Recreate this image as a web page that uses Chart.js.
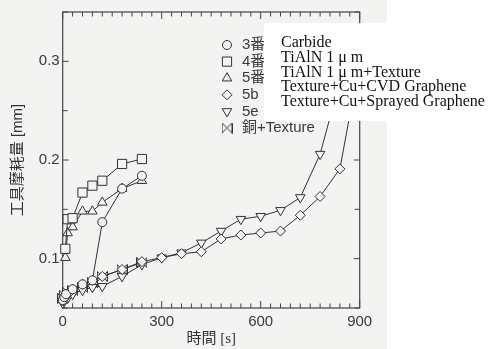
<!DOCTYPE html>
<html>
<head>
<meta charset="utf-8">
<script src="https://cdn.jsdelivr.net/npm/chart.js@4"></script>
<style>
  html, body { margin: 0; background: #fff; }
</style>
</head>
<body>
<canvas id="myChart" width="489" height="349"></canvas>
<script>
// legend names
const names = ['3番', '4番', '5番', '5b', '5e', '銅+Texture']
const overlayNames = ['Carbide', 'TiAlN 1 μ m', 'TiAlN 1 μ m+Texture', 'Texture+Cu+CVD Graphene', 'Texture+Cu+Sprayed Graphene']

const xTicks = [0, 300, 600, 900]
const yTicks = [0.1, 0.2, 0.3]

// time [s] / wear [mm]
const t3 = [0, 5, 10, 30, 60, 90, 120, 180, 240]
const w3 = [0.058, 0.061, 0.064, 0.069, 0.074, 0.078, 0.137, 0.171, 0.184]

const t4 = [8, 15, 30, 60, 90, 120, 180, 240]
const w4 = [0.110, 0.140, 0.141, 0.167, 0.174, 0.179, 0.196, 0.201]

const t5 = [8, 15, 30, 60, 90, 120, 180, 240]
const w5 = [0.101, 0.126, 0.132, 0.148, 0.148, 0.157, 0.171, 0.179]

const t5b = [0, 5, 15, 30, 60, 90, 120, 180, 240, 300, 360, 420, 480, 540, 600, 660, 720, 780, 840, 900]
const w5b = [0.057, 0.060, 0.064, 0.069, 0.074, 0.078, 0.082, 0.089, 0.097, 0.101, 0.105, 0.107, 0.120, 0.124, 0.126, 0.128, 0.144, 0.163, 0.191, 0.300]

const t5e = [0, 5, 15, 30, 60, 90, 120, 180, 240, 300, 360, 420, 480, 540, 600, 660, 720, 780, 840]
const w5e = [0.055, 0.057, 0.060, 0.064, 0.068, 0.071, 0.072, 0.082, 0.094, 0.101, 0.106, 0.116, 0.128, 0.140, 0.143, 0.149, 0.162, 0.206, 0.280]

const tCu = [0, 5, 15, 30, 60, 90, 120, 180, 240]
const wCu = [0.060, 0.063, 0.066, 0.068, 0.071, 0.076, 0.082, 0.089, 0.096]

const bg = '#f3f3f2'
const ink = '#333'

// bowtie marker
function bowtie() {
    let c = document.createElement('canvas')
    c.width = 11
    c.height = 11
    let g = c.getContext('2d')
    g.fillStyle = bg
    g.strokeStyle = ink
    g.lineWidth = 1
    g.beginPath()
    g.moveTo(0.5, 0.5)
    g.lineTo(10.5, 10.5)
    g.lineTo(10.5, 0.5)
    g.lineTo(0.5, 10.5)
    g.closePath()
    g.fill()
    g.stroke()
    return c
}

const styles = [
    { pointStyle: 'circle', radius: 4.5, rotation: 0 },
    { pointStyle: 'rect', radius: 6.5, rotation: 0 },
    { pointStyle: 'triangle', radius: 5.5, rotation: 0 },
    { pointStyle: 'rectRot', radius: 5, rotation: 0 },
    { pointStyle: 'triangle', radius: 5.5, rotation: 180 },
    { pointStyle: bowtie(), radius: 5, rotation: 0 }
]

const series = [[t3, w3], [t4, w4], [t5, w5], [t5b, w5b], [t5e, w5e], [tCu, wCu]]

const datasets = series.map((s, i) => ({
    label: names[i],
    data: s[0].map((t, j) => ({ x: t, y: s[1][j] })),
    showLine: true,
    borderColor: ink,
    borderWidth: 1,
    backgroundColor: bg,
    pointBackgroundColor: bg,
    pointBorderColor: ink,
    pointBorderWidth: 1,
    pointStyle: styles[i].pointStyle,
    pointRadius: styles[i].radius,
    pointRotation: styles[i].rotation,
    clip: 8
}))

const paper = {
    id: 'paper',
    beforeDraw(chart) {
        const ctx = chart.ctx
        ctx.save()
        ctx.fillStyle = bg
        ctx.fillRect(0, 0, 387, chart.height)
        ctx.restore()
    },
    beforeDatasetsDraw(chart) {
        const ctx = chart.ctx
        const a = chart.chartArea
        const x = chart.scales.x
        const y = chart.scales.y
        ctx.save()
        ctx.strokeStyle = '#444'
        ctx.lineWidth = 1.2
        ctx.strokeRect(a.left, a.top, a.right - a.left, a.bottom - a.top)
        ctx.lineWidth = 1
        ctx.beginPath()
        for (let v = 0; v <= 900; v += 30) {
            let px = x.getPixelForValue(v)
            let len = v % 300 === 0 ? 7 : 4.5
            ctx.moveTo(px, a.bottom)
            ctx.lineTo(px, a.bottom - len)
            ctx.moveTo(px, a.top)
            ctx.lineTo(px, a.top + len)
        }
        for (let k = 1; k <= 7; k++) {
            let py = y.getPixelForValue(0.05 * k)
            let len = k % 2 === 0 ? 6 : 5
            ctx.moveTo(a.left, py)
            ctx.lineTo(a.left + len, py)
            ctx.moveTo(a.right, py)
            ctx.lineTo(a.right - len, py)
        }
        ctx.stroke()
        ctx.restore()
    },
    afterDraw(chart) {
        const ctx = chart.ctx
        const draw = Chart.helpers && Chart.helpers.drawPoint
        ctx.save()
        // legend of the original figure
        ctx.font = '15px "Liberation Sans", "Noto Sans CJK JP", sans-serif'
        ctx.textBaseline = 'middle'
        names.forEach((n, i) => {
            let yy = 45 + i * 16.6
            ctx.fillStyle = bg
            ctx.strokeStyle = ink
            ctx.lineWidth = 1
            if (draw) draw(ctx, { pointStyle: styles[i].pointStyle, radius: styles[i].radius, rotation: styles[i].rotation, borderWidth: 1 }, 227, yy)
            ctx.fillStyle = '#3a3a3a'
            ctx.fillText(n, 242, yy)
        })
        // pasted label box
        ctx.fillStyle = '#fff'
        ctx.fillRect(264, 23, 225, 98)
        ctx.fillStyle = '#111'
        ctx.font = '16px "Liberation Serif", "Times New Roman", serif'
        overlayNames.forEach((n, i) => {
            ctx.fillText(n, 281, 43 + i * 14.7)
        })
        ctx.restore()
    }
}

new Chart(document.getElementById('myChart'), {
    type: 'scatter',
    data: { datasets },
    options: {
        responsive: false,
        devicePixelRatio: 1,
        animation: false,
        events: [],
        layout: { padding: { top: 12, right: 129.3, left: 0, bottom: 0 } },
        plugins: { legend: { display: false }, tooltip: { enabled: false } },
        scales: {
            x: {
                type: 'linear',
                min: 0,
                max: 900,
                afterBuildTicks: s => { s.ticks = xTicks.map(v => ({ value: v })) },
                afterFit: s => { s.height = 41 },
                grid: { display: false, drawTicks: false },
                border: { display: false },
                ticks: { padding: 5, maxRotation: 0, color: '#3a3a3a', font: { family: '"Liberation Sans", Arial, sans-serif', size: 15 } },
                title: { display: true, text: '時間 [s]', color: '#333', padding: { top: 0, bottom: 1 }, font: { family: '"Liberation Serif", "Noto Sans CJK JP", serif', size: 15 } }
            },
            y: {
                type: 'linear',
                min: 0.05,
                max: 0.35,
                afterBuildTicks: s => { s.ticks = yTicks.map(v => ({ value: v })) },
                afterFit: s => { s.width = 62.7 },
                grid: { display: false, drawTicks: false },
                border: { display: false },
                ticks: { padding: 3, color: '#3a3a3a', callback: v => v.toFixed(1), font: { family: '"Liberation Sans", Arial, sans-serif', size: 15 } },
                title: { display: true, text: '工具摩耗量 [mm]', color: '#333', padding: { top: 9, bottom: 0 }, font: { family: '"Liberation Sans", "Noto Sans CJK JP", sans-serif', size: 15 } }
            }
        }
    },
    plugins: [paper]
})
</script>
</body>
</html>
